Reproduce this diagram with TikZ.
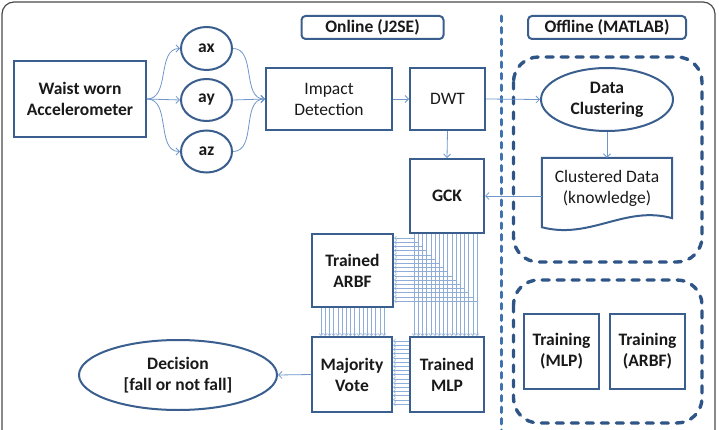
\documentclass[tikz,border=0pt]{standalone}
\usepackage{fontspec}
\setmainfont{Carlito}
\usetikzlibrary{arrows.meta,shapes.geometric}
\definecolor{boxc}{HTML}{3A5F8E}
\definecolor{linec}{HTML}{6F96CB}
\definecolor{bundc}{HTML}{8FADD9}
\definecolor{dashc}{HTML}{2F5587}
\definecolor{sepc}{HTML}{3F72B0}
\definecolor{framec}{HTML}{4A4A4A}
\begin{document}
\begin{tikzpicture}[x=1pt,y=-1pt,
  rg/.style={font=\fontsize{17.5}{21}\selectfont},
  bf/.style={font=\fontsize{17.5}{21}\selectfont\bfseries},
  box/.style={draw=boxc, line width=2pt, fill=white, align=center, inner sep=0pt, text=black!90},
  ell/.style={box, ellipse},
  tagbox/.style={box, rounded corners=4pt},
  conn/.style={draw=linec, line width=0.8pt, -{Straight Barb[length=3.5pt,width=7pt]}},
  bund/.style={draw=bundc, line width=0.6pt, -{Straight Barb[length=2pt,width=3.5pt]}},
  dashbox/.style={draw=dashc, line width=3.4pt, line cap=round, dash pattern=on 7pt off 8pt, rounded corners=25pt},
  sepline/.style={draw=sepc, line width=3pt, line cap=round, dash pattern=on 5.5pt off 6pt}
]
\useasboundingbox (0,0) rectangle (719,430);
% outer frame
\draw[framec, line width=1.2pt, rounded corners=12pt] (2,2) rectangle (715,470);

% labels at top
\node[tagbox, bf, minimum width=142pt, minimum height=23pt] (online) at (372.5,27.5) {Online (J2SE)};
\node[tagbox, bf, minimum width=158pt, minimum height=23pt] (offline) at (607,27.5) {Offline (MATLAB)};

% separator and dashed groups
\draw[sepline] (501.5,16) -- (501.5,432);
\draw[dashbox] (513.5,57) rectangle (702,262);
\draw[dashbox] (513.5,280) rectangle (702,423);

% nodes
\node[box, bf, minimum width=132pt, minimum height=76pt] (acc) at (80,99) {Waist worn\\Accelerometer};
\node[ell, bf, minimum width=51pt, minimum height=43pt] (ax) at (206.5,48.5) {ax};
\node[ell, bf, minimum width=51pt, minimum height=42pt] (ay) at (206.5,100) {ay};
\node[ell, bf, minimum width=51pt, minimum height=42pt] (az) at (206.5,151.5) {az};
\node[box, rg, minimum width=126pt, minimum height=62pt] (imp) at (329,99) {Impact\\Detection};
\node[box, rg, minimum width=75pt, minimum height=62pt] (dwt) at (447.5,99) {DWT};
\node[ell, bf, minimum width=132pt, minimum height=63pt] (dc) at (607,99.5) {Data\\Clustering};
\node[rg, align=center, inner sep=0pt, minimum width=130pt, minimum height=60pt, text=black!90] (cd) at (607,188) {Clustered Data\\(knowledge)};
\draw[draw=boxc, line width=2pt] (cd.north west) -- (cd.north east) -- (cd.south east)
  .. controls (625,205) and (590,240) .. ([yshift=-9pt]cd.south west) -- cycle;
\node[box, bf, minimum width=74pt, minimum height=74pt] (gck) at (447,196) {GCK};
\node[box, bf, minimum width=81pt, minimum height=73pt] (arbf) at (352.5,270.5) {Trained\\ARBF};
\node[box, bf, minimum width=80pt, minimum height=75pt] (maj) at (352,374.5) {Majority\\Vote};
\node[box, bf, minimum width=74pt, minimum height=75pt] (mlp) at (447,374.5) {Trained\\MLP};
\node[ell, bf, minimum width=198pt, minimum height=70pt] (dec) at (178,375) {Decision\\{}[fall or not fall]};
\node[box, bf, minimum width=75pt, minimum height=75pt] (tmlp) at (561.5,351.5) {Training\\(MLP)};
\node[box, bf, minimum width=75pt, minimum height=75pt] (tarbf) at (647.5,351.5) {Training\\(ARBF)};

% connectors
\draw[conn] (acc.east) to[out=0,in=180] (ax.west);
\draw[conn] (acc.east) -- (ay.west);
\draw[conn] (acc.east) to[out=0,in=180] (az.west);
\draw[conn] (ax.east) to[out=0,in=180] (imp.west);
\draw[conn] (ay.east) -- (imp.west);
\draw[conn] (az.east) to[out=0,in=180] (imp.west);
\draw[conn] (imp.east) -- (dwt.west);
\draw[conn] (dwt.east) -- (dc.west);
\draw[conn] (dwt.south) -- (gck.north);
\draw[conn] (dc.south) -- (cd.north);
\draw[conn] (cd.west |- gck.east) -- (gck.east);
\draw[conn] (maj.west) -- (dec.east);

% bundles
\foreach \i in {0,...,15}{
  \pgfmathsetmacro\da{5+4.2*\i}
  \pgfmathsetmacro\db{10+4.2*\i}
  \draw[bund] ([xshift=\da pt]gck.south west) |- ([yshift=-\da pt]arbf.north east);
  \draw[bund] ([xshift=\da pt]gck.south west) -- ([xshift=\da pt]mlp.north west);
  \draw[bund] ([xshift=\db pt]arbf.south west) -- ([xshift=\db pt]maj.north west);
  \draw[bund] ([yshift=-\da pt]mlp.north west) -- ([yshift=-\da pt]maj.north east);
}
\end{tikzpicture}
\end{document}
